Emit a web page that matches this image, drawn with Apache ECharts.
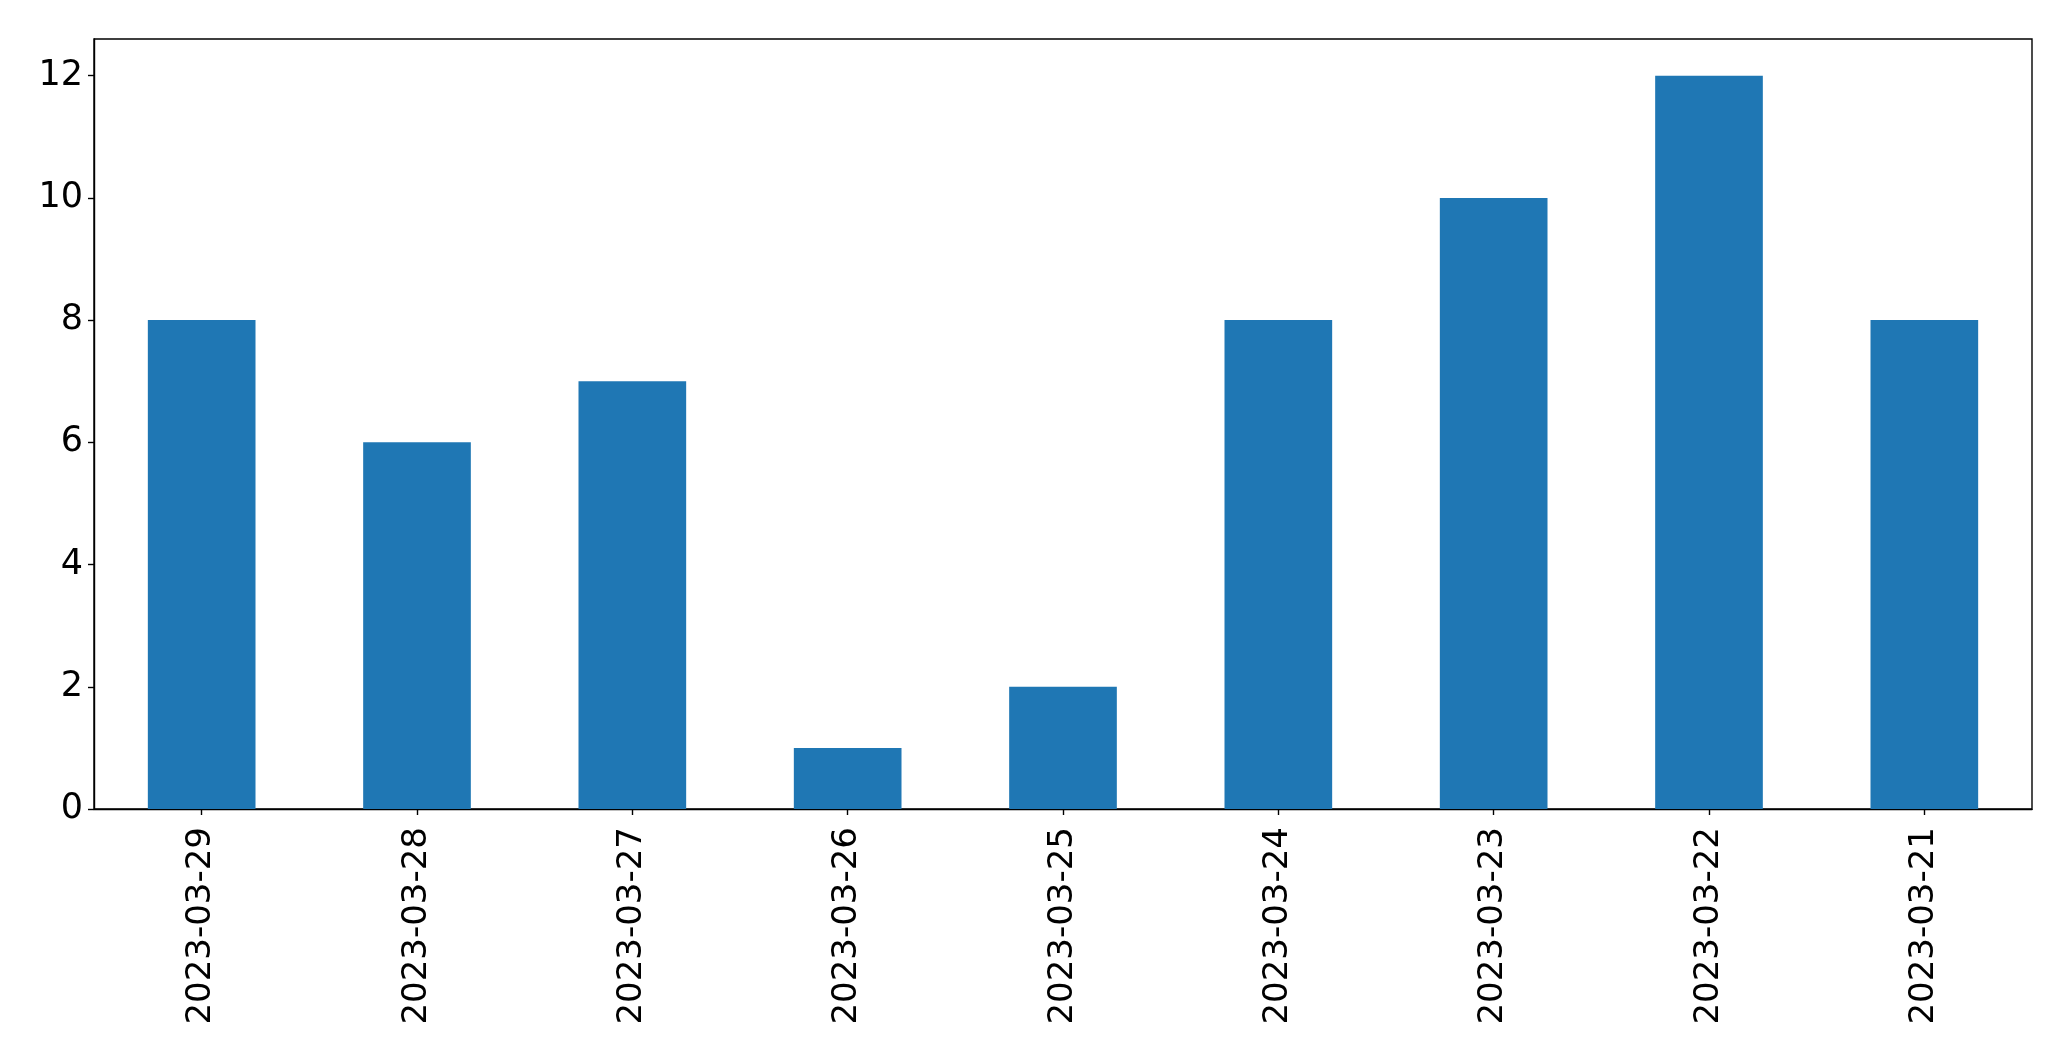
<!DOCTYPE html>
<html>
<head>
<meta charset="utf-8">
<script src="https://cdn.jsdelivr.net/npm/echarts@6/dist/echarts.min.js"></script>
<style>
html,body{margin:0;padding:0;background:#fff;}
#chart{width:2071px;height:1061px;}
</style>
</head>
<body>
<div id="chart"></div>
<script>
const categories = ["2023-03-29","2023-03-28","2023-03-27","2023-03-26","2023-03-25","2023-03-24","2023-03-23","2023-03-22","2023-03-21"];
const values = [8, 6, 7, 1, 2, 8, 10, 12, 8];
const yTicks = [0, 2, 4, 6, 8, 10, 12];

const chart = echarts.init(document.getElementById('chart'), null, {renderer: 'canvas'});
const font = 'DejaVu Sans';
chart.setOption({
  animation: false,
  backgroundColor: '#ffffff',
  grid: {
    left: 94, top: 39, right: 39, bottom: 252,
    show: true, borderColor: '#000', borderWidth: 1.4, backgroundColor: 'transparent',
    containLabel: false
  },
  xAxis: {
    type: 'category',
    data: categories,
    boundaryGap: true,
    axisLine: {show: true, lineStyle: {color: '#000', width: 1.4}},
    axisTick: {show: true, alignWithLabel: true, length: 6, lineStyle: {color: '#000', width: 1.4}},
    axisLabel: {rotate: 90, fontFamily: font, fontSize: 34, color: '#000', margin: 18, interval: 0},
    splitLine: {show: false}
  },
  yAxis: {
    type: 'value',
    min: 0,
    max: 12.6,
    interval: 2,
    axisLine: {show: true, lineStyle: {color: '#000', width: 1.4}},
    axisTick: {show: true, length: 6, customValues: yTicks, lineStyle: {color: '#000', width: 1.4}},
    axisLabel: {fontFamily: font, fontSize: 35, color: '#000', margin: 11, customValues: yTicks},
    splitLine: {show: false}
  },
  series: [{
    type: 'bar',
    data: values,
    barWidth: '50%',
    itemStyle: {color: '#1f77b4'}
  }]
});
</script>
</body>
</html>
